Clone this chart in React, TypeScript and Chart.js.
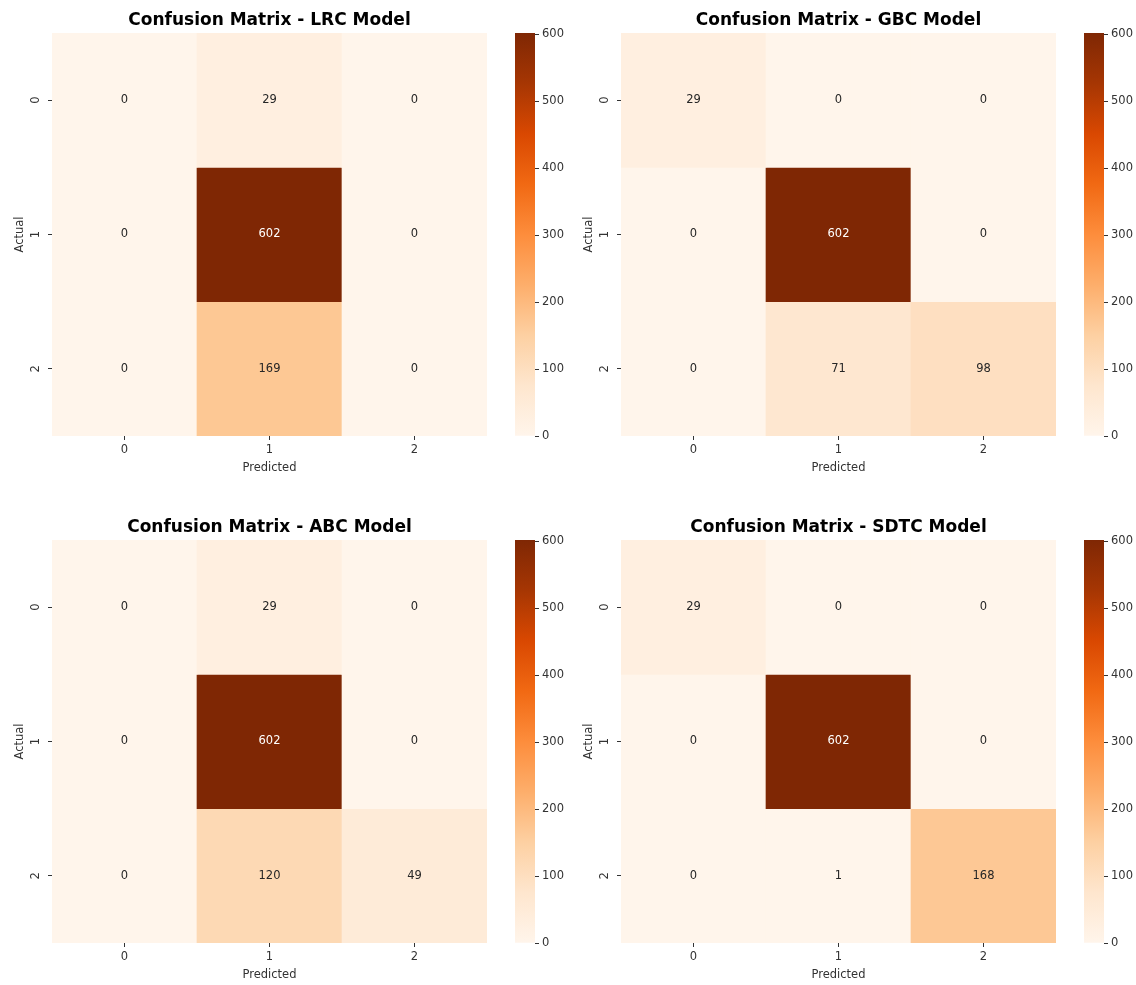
import React, { useEffect, useRef } from 'react';
import { Chart, registerables } from 'chart.js';

Chart.register(...registerables);
Chart.defaults.font.family = "'DejaVu Sans', sans-serif";

// ---------------- DATA ----------------
const CLASS_LABELS = ['0', '1', '2'];
const MODEL_NAMES = ['LRC', 'GBC', 'ABC', 'SDTC'];

const LRC_MATRIX = [
  [0, 29, 0],
  [0, 602, 0],
  [0, 169, 0],
];
const GBC_MATRIX = [
  [29, 0, 0],
  [0, 602, 0],
  [0, 71, 98],
];
const ABC_MATRIX = [
  [0, 29, 0],
  [0, 602, 0],
  [0, 120, 49],
];
const SDTC_MATRIX = [
  [29, 0, 0],
  [0, 602, 0],
  [0, 1, 168],
];
const MATRICES = [LRC_MATRIX, GBC_MATRIX, ABC_MATRIX, SDTC_MATRIX];

const COLORBAR_TICKS = [0, 100, 200, 300, 400, 500, 600];

// matplotlib "Oranges" colormap anchor colours
const ORANGES = ['#fff5eb', '#fee6ce', '#fdd0a2', '#fdae6b', '#fd8d3c', '#f16913', '#d94801', '#a63603', '#7f2704'];

// ---------------- helpers ----------------
function hexToRgb(h: string) {
  const n = parseInt(h.slice(1), 16);
  return [(n >> 16) & 255, (n >> 8) & 255, n & 255];
}
const ORANGES_RGB = ORANGES.map(hexToRgb);

function orangesRgb(t: number) {
  const tt = Math.max(0, Math.min(1, t));
  const pos = tt * (ORANGES_RGB.length - 1);
  const i = Math.min(Math.floor(pos), ORANGES_RGB.length - 2);
  const f = pos - i;
  const a = ORANGES_RGB[i];
  const b = ORANGES_RGB[i + 1];
  return [0, 1, 2].map((k) => a[k] + (b[k] - a[k]) * f);
}
function rgbStr(c: number[]) {
  return `rgb(${Math.round(c[0])},${Math.round(c[1])},${Math.round(c[2])})`;
}
function luminance(c: number[]) {
  const lin = c.map((v) => {
    const s = v / 255;
    return s <= 0.03928 ? s / 12.92 : Math.pow((s + 0.055) / 1.055, 2.4);
  });
  return 0.2126 * lin[0] + 0.7152 * lin[1] + 0.0722 * lin[2];
}

const TICK_COLOR = '#333333';
const TICK_FONT = 11.5;

// ---------------- Heatmap ----------------
function Heatmap(props: { matrix: number[][]; title: string; vmax: number; left: number; top: number; width: number; height: number }) {
  const ref = useRef<HTMLCanvasElement>(null);
  const { matrix, title, vmax, left, top, width, height } = props;

  useEffect(() => {
    if (!ref.current) return;
    const datasets = matrix.map((row, r) => ({
      label: 'row ' + CLASS_LABELS[r],
      data: row.map(() => [r, r + 1]),
      backgroundColor: row.map((v) => rgbStr(orangesRgb(v / vmax))),
      borderWidth: 0,
      borderSkipped: false,
      grouped: false,
      barPercentage: 1,
      categoryPercentage: 1,
    }));

    const cellLabels = {
      id: 'cellLabels',
      afterDatasetsDraw(chart: any) {
        const ctx = chart.ctx;
        ctx.save();
        ctx.font = `${TICK_FONT}px 'DejaVu Sans', sans-serif`;
        ctx.textAlign = 'center';
        ctx.textBaseline = 'middle';
        chart.data.datasets.forEach((_ds: any, di: number) => {
          const meta = chart.getDatasetMeta(di);
          meta.data.forEach((el: any, ci: number) => {
            const v = matrix[di][ci];
            const col = orangesRgb(v / vmax);
            ctx.fillStyle = luminance(col) > 0.408 ? '#262626' : '#ffffff';
            const p = el.getCenterPoint();
            ctx.fillText(String(v), p.x, p.y);
          });
        });
        ctx.restore();
      },
    };

    const chart = new Chart(ref.current, {
      type: 'bar',
      data: { labels: CLASS_LABELS, datasets: datasets as any },
      options: {
        responsive: false,
        maintainAspectRatio: false,
        animation: false,
        devicePixelRatio: 1,
        layout: { padding: { left: 0, right: 13, top: 0, bottom: 0 } },
        plugins: {
          legend: { display: false },
          tooltip: { enabled: false },
          title: {
            display: true,
            text: title,
            color: '#000000',
            fullSize: false,
            font: { size: 17, weight: 'bold' },
            padding: { top: 10, bottom: 2.6 },
          },
        },
        scales: {
          x: {
            type: 'category',
            offset: true,
            grid: { display: true, drawOnChartArea: false, drawTicks: true, tickLength: 4, offset: false, color: TICK_COLOR },
            border: { display: false },
            ticks: { color: TICK_COLOR, font: { size: TICK_FONT }, padding: 3, maxRotation: 0, minRotation: 0 },
            title: { display: true, text: 'Predicted', color: TICK_COLOR, font: { size: TICK_FONT }, padding: { top: 0, bottom: 3 } },
            afterFit: (s: any) => {
              s.height = 42;
            },
          },
          y: {
            type: 'linear',
            min: 0,
            max: CLASS_LABELS.length,
            reverse: true,
            grid: { display: true, drawOnChartArea: false, drawTicks: true, tickLength: 4, color: TICK_COLOR },
            border: { display: false },
            afterBuildTicks: (s: any) => {
              s.ticks = CLASS_LABELS.map((_l, i) => ({ value: i + 0.5 }));
            },
            ticks: {
              color: TICK_COLOR,
              font: { size: TICK_FONT },
              padding: 8,
              minRotation: 90,
              maxRotation: 90,
              crossAlign: 'center',
              callback: (v: any) => CLASS_LABELS[Math.floor(Number(v))],
            },
            title: { display: true, text: 'Actual', color: TICK_COLOR, font: { size: TICK_FONT }, padding: { top: 13, bottom: 0 } },
            afterFit: (s: any) => {
              s.width = 52;
            },
          },
        },
      } as any,
      plugins: [cellLabels],
    });
    return () => chart.destroy();
  }, [matrix, title, vmax]);

  return (
    <canvas
      ref={ref}
      width={width}
      height={height}
      style={{ position: 'absolute', left, top, width, height, display: 'block' }}
    />
  );
}

// ---------------- Colorbar ----------------
function Colorbar(props: { vmax: number; left: number; top: number; width: number; height: number }) {
  const ref = useRef<HTMLCanvasElement>(null);
  const { vmax, left, top, width, height } = props;

  useEffect(() => {
    if (!ref.current) return;
    const chart = new Chart(ref.current, {
      type: 'bar',
      data: {
        labels: [''],
        datasets: [
          {
            data: [[0, vmax]] as any,
            borderWidth: 0,
            borderSkipped: false,
            barPercentage: 1,
            categoryPercentage: 1,
            backgroundColor: (c: any) => {
              const ch = c.chart;
              if (!ch.chartArea || !ch.scales.y) return ORANGES[4];
              const ys = ch.scales.y;
              const y0 = ys.getPixelForValue(0);
              const y1 = ys.getPixelForValue(vmax);
              const g = ch.ctx.createLinearGradient(0, y0, 0, y1);
              ORANGES.forEach((col, i) => g.addColorStop(i / (ORANGES.length - 1), col));
              return g;
            },
          },
        ],
      },
      options: {
        responsive: false,
        maintainAspectRatio: false,
        animation: false,
        devicePixelRatio: 1,
        layout: { padding: { left: 15, right: 0, top: 33, bottom: 42 } },
        plugins: { legend: { display: false }, tooltip: { enabled: false }, title: { display: false } },
        scales: {
          x: { display: false },
          y: {
            type: 'linear',
            position: 'right',
            min: 0,
            max: vmax,
            grid: { display: true, drawOnChartArea: false, drawTicks: true, tickLength: 4, color: TICK_COLOR },
            border: { display: false },
            afterBuildTicks: (s: any) => {
              s.ticks = COLORBAR_TICKS.map((v) => ({ value: v }));
            },
            ticks: { color: TICK_COLOR, font: { size: TICK_FONT }, padding: 3, callback: (v: any) => String(v) },
            afterFit: (s: any) => {
              s.width = width - 15 - 20;
            },
          },
        },
      } as any,
    });
    return () => chart.destroy();
  }, [vmax, width]);

  return (
    <canvas
      ref={ref}
      width={width}
      height={height}
      style={{ position: 'absolute', left, top, width, height, display: 'block' }}
    />
  );
}

// ---------------- App ----------------
export default function App() {
  const panelH = 478;
  const positions = [
    { x: 0, y: 0 },
    { x: 569, y: 0 },
    { x: 0, y: 507 },
    { x: 569, y: 507 },
  ];
  return (
    <div style={{ position: 'absolute', left: 0, top: 0, width: 1136, height: 985, background: '#ffffff', overflow: 'hidden' }}>
      {MATRICES.map((m, i) => {
        const vmax = Math.max(...m.map((r) => Math.max(...r)));
        const p = positions[i];
        const cbW = i % 2 === 0 ? 69 : 67;
        return (
          <React.Fragment key={MODEL_NAMES[i]}>
            <Heatmap
              matrix={m}
              title={`Confusion Matrix - ${MODEL_NAMES[i]} Model`}
              vmax={vmax}
              left={p.x}
              top={p.y}
              width={500}
              height={panelH}
            />
            <Colorbar vmax={vmax} left={p.x + 500} top={p.y} width={cbW} height={panelH} />
          </React.Fragment>
        );
      })}
    </div>
  );
}
